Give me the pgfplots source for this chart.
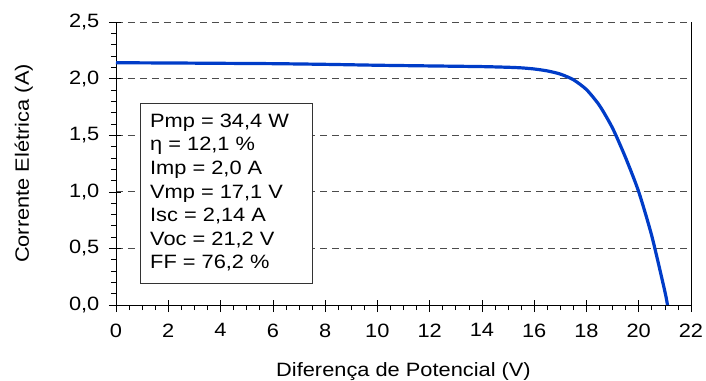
\documentclass[border=0pt]{standalone}
\usepackage{fontspec}
\setmainfont[FakeStretch=1.13]{Liberation Sans}
\usepackage{pgfplots}
\pgfplotsset{compat=1.18}
\definecolor{curveblue}{RGB}{0,60,200}
\begin{document}
\fontsize{19.3bp}{23.6bp}\selectfont
\begin{tikzpicture}
\begin{axis}[
  at={(0,0)}, anchor=south west,
  scale only axis,
  width=575bp, height=283bp,
  xmin=0, xmax=22, ymin=0, ymax=2.5,
  axis x line*=bottom, axis y line*=left,
  axis line style={-, black, line width=0.8bp},
  xtick={0,2,...,22},
  ytick={0,0.5,...,2.5},
  minor x tick num=3,
  minor y tick num=4,
  tick align=outside,
  major tick length=7bp,
  minor tick length=5bp,
  tick style={black, line width=0.6bp},
  extra x ticks={0,2,...,22},
  extra y ticks={0,0.5,...,2.5},
  extra x tick labels={},
  extra y tick labels={},
  extra tick style={tick align=inside, major tick length=5bp, grid=none},
  ymajorgrids,
  major grid style={black!70, dash pattern=on 7bp off 5bp, line width=0.7bp},
  /pgf/number format/assume math mode=true,
  yticklabel style={/pgf/number format/.cd, fixed, fixed zerofill, precision=1, use comma, /tikz/.cd, xshift=-3bp},
  xticklabel style={yshift=-5bp},
  xlabel={Diferença de Potencial (V)},
  ylabel={Corrente Elétrica (A)},
  xlabel style={at={(axis description cs:0.5,-0.2534)}, anchor=base},
  ylabel style={at={(axis description cs:-0.1513,0.5)}, anchor=base},
  clip=false,
]
\addplot[curveblue, line width=3.2bp, smooth, tension=0.4] coordinates {
(0,2.140) (2,2.138) (4,2.135) (6,2.132) (8,2.126) (10,2.118) (12,2.112)
(14,2.106) (15,2.100) (15.5,2.095) (16,2.085) (16.5,2.068) (17,2.040)
(17.5,1.990) (18,1.903) (18.5,1.762) (19,1.562) (19.5,1.300) (20,1.000)
(20.5,0.610) (21,0.120) (21.1,0)
};
\draw[black!80, line width=0.7bp, fill=white] (axis cs:0.92,0.194) rectangle (axis cs:7.5,1.785);
\node[anchor=north west, align=left, inner sep=0pt] at (axis cs:1.30,1.69) {%
Pmp = 34,4 W\\
η = 12,1 \%\\
Imp = 2,0 A\\
Vmp = 17,1 V\\
Isc = 2,14 A\\
Voc = 21,2 V\\
FF = 76,2 \%};
\draw[black, line width=0.8bp] (rel axis cs:1,0) -- (rel axis cs:1,1);
\end{axis}
\pgfresetboundingbox
\path[use as bounding box] (-116bp,-76bp) rectangle (590bp,305bp);
\end{tikzpicture}
\end{document}
